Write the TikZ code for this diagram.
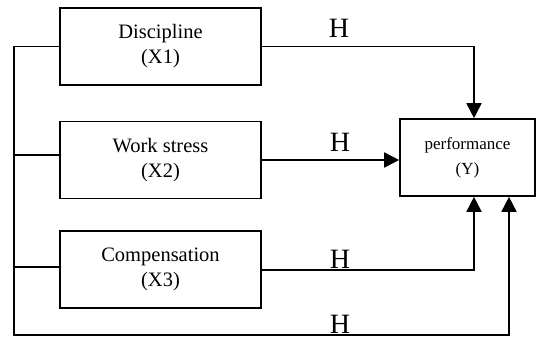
\documentclass[tikz,border=0pt]{standalone}
\usepackage{fontspec}
\setmainfont{Liberation Serif}
\usetikzlibrary{arrows.meta, positioning}

\begin{document}
\begin{tikzpicture}
				[x=1pt, y=-1pt,
				factor/.style={rectangle, draw=black, line width=1.6pt, minimum width=201pt, minimum height=77pt, align=center, font=\fontsize{20.5}{25}\selectfont},
				outcome/.style={rectangle, draw=black, line width=1.6pt, minimum width=135pt, minimum height=77pt, align=center, font=\fontsize{17}{25}\selectfont},
				hyp/.style={inner sep=0pt, font=\fontsize{28}{30}\selectfont},
				link/.style={line width=1.6pt, -{Triangle[length=15pt, width=15pt]}}]
				\useasboundingbox (0,0) rectangle (536,338);
				\node [factor]  		(discipline)		at (160.5,46.5)					{Discipline\\(X1)} ;
				\node [factor]  		(work stress)		[below=35pt of discipline]		{Work stress\\(X2)} ;
				\node [factor]  		(compensation)		[below=31pt of work stress]	{Compensation\\(X3)} ;
				\node [outcome]  		(performance)		at (467.5,157.5)				{performance\\(Y)} ;
				\coordinate 			(spine)				at (14,335) ;
				\draw [link] (discipline.east) -| ([xshift=6.5pt]performance.north) ;
				\draw [link] (work stress.east |- 0,160) -- (performance.west |- 0,160) ;
				\draw [link] (compensation.east |- 0,270) -| ([xshift=6.5pt]performance.south) ;
				\draw [link] (discipline.west) -| (spine) -| ([xshift=41.5pt]performance.south) ;
				\draw [line width=1.6pt] (work stress.west |- 0,155) -- (spine |- 0,155) ;
				\draw [line width=1.6pt] (compensation.west |- 0,267) -- (spine |- 0,267) ;
				\node [hyp]  			(h1)				at (339,28)		{H} ;
				\node [hyp]  			(h2)				at (340,142)	{H} ;
				\node [hyp]  			(h3)				at (340,259)	{H} ;
				\node [hyp]  			(h4)				at (340,324)	{H} ;
			\end{tikzpicture}
\end{document}
